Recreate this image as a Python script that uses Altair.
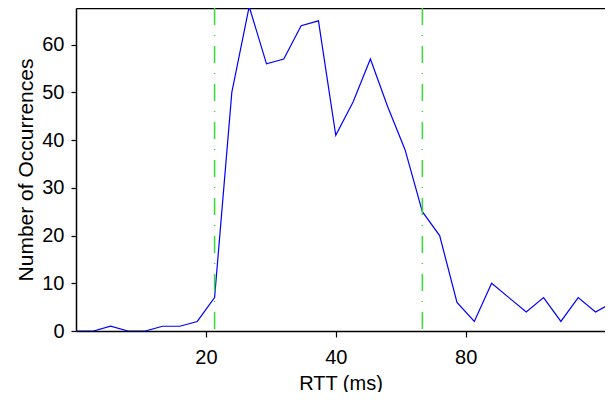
import altair as alt
import pandas as pd

# RTT bin centres (ms, log-spaced bins) and counts
rtt_ms = [10.0, 10.97, 12.03, 13.2, 14.47, 15.87, 17.41, 19.1, 20.95, 22.97,
          25.2, 27.64, 30.31, 33.25, 36.47, 40.0, 43.87, 48.12, 52.78, 57.89,
          63.5, 69.64, 76.39, 83.79, 91.9, 100.79, 110.55, 121.26, 133.0,
          145.88, 160.0, 175.49]
occurrences = [0, 0, 1, 0, 0, 1, 1, 2, 7, 50,
               68, 56, 57, 64, 65, 41, 48, 57, 47, 38,
               25, 20, 6, 2, 10, 7, 4, 7, 2,
               7, 4, 6]
thresholds_ms = [20.95, 63.5]
x_tick_values = [20, 40, 80]
y_tick_values = [0, 10, 20, 30, 40, 50, 60]

df = pd.DataFrame({"rtt": rtt_ms, "count": occurrences})
df_th = pd.DataFrame({"rtt": thresholds_ms})

# visible part of the axis (the reference is cut at its right edge)
x_scale = alt.Scale(type="log", base=2, domain=[10, 168.3], nice=False)
y_scale = alt.Scale(domain=[0, 67.7], nice=False, zero=True)

FONT = "Liberation Sans"

line = alt.Chart(df).mark_line(color="#0000ff", strokeWidth=1.2, clip=True).encode(
    x=alt.X("rtt:Q", scale=x_scale,
            axis=alt.Axis(values=x_tick_values, format="d", title="RTT (ms)",
                          tickSize=6, labelPadding=10, titlePadding=6,
                          grid=False)),
    y=alt.Y("count:Q", scale=y_scale,
            axis=alt.Axis(values=y_tick_values, format="d",
                          title="Number of Occurrences",
                          tickSize=5, labelPadding=7, titlePadding=5,
                          titleFontSize=21, grid=False)),
)

rules = alt.Chart(df_th).mark_rule(
    color="#33dd33", strokeWidth=1.5, strokeDash=[17, 10, 1, 10], clip=True
).encode(
    x=alt.X("rtt:Q", scale=x_scale,
            axis=alt.Axis(orient="top", labels=False, ticks=False, title=None,
                          grid=False, domain=True))
)

chart = alt.layer(line, rules).resolve_axis(x="independent").properties(
    width=529,
    height=323,
    padding={"left": 68, "top": 0, "right": 0, "bottom": 61},
    autosize=alt.AutoSizeParams(type="none"),
).configure_view(
    strokeWidth=0
).configure_axis(
    domainColor="black", domainWidth=1.5, tickColor="black", tickWidth=1.2,
    labelColor="black", titleColor="black",
    labelFont=FONT, titleFont=FONT, labelFontSize=20, titleFontSize=20,
    titleFontWeight="normal",
)

chart.save("out.html", embed_options={"renderer": "svg", "actions": False})
